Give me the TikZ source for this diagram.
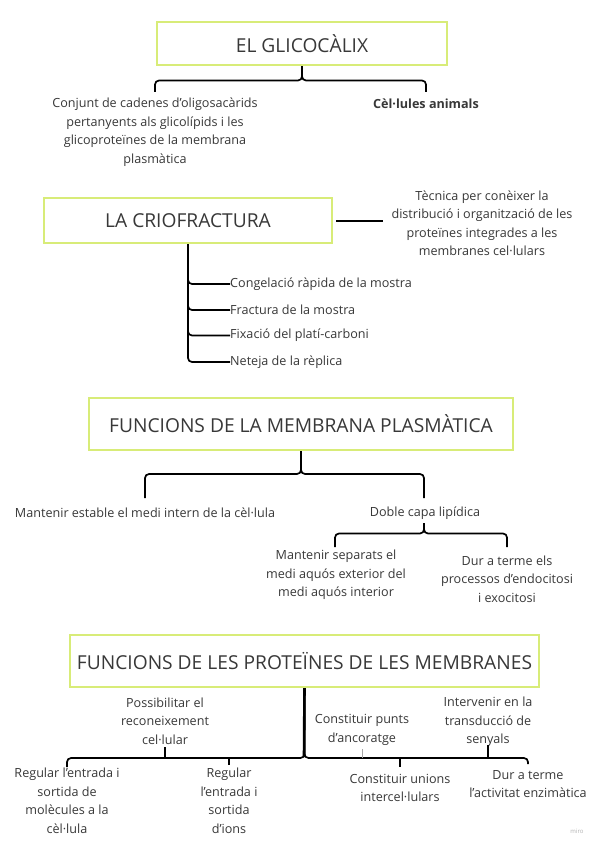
\documentclass[tikz,border=0pt]{standalone}
\usepackage{fontspec}
\setmainfont{Open Sans}
\begin{document}
\begin{tikzpicture}[x=1pt,y=-1pt,
  titlebox/.style={draw=boxlime,line width=2.2pt,fill=white,text=textgray,font=\fontsize{19.2}{22}\selectfont,inner sep=0pt},
  txt/.style={text=textgray,font=\fontsize{12.6}{18.5}\selectfont,align=center,inner sep=0pt},
  ltxt/.style={txt,anchor=west},
  conn/.style={draw=black,line width=1.7pt,rounded corners=4pt},
  thickconn/.style={draw=black,line width=2.6pt,rounded corners=4pt}]
\definecolor{boxlime}{HTML}{D8EC78}
\definecolor{textgray}{HTML}{383838}
\useasboundingbox[fill=white] (0,0) rectangle (600,848);

% ---- EL GLICOCALIX ----
\node[titlebox,minimum width=290pt,minimum height=43pt] (g1) at (302,43.5) {EL GLICOCÀLIX};
\node[txt] (c1a) at (155,132) {Conjunt de cadenes d'oligosacàrids\\pertanyents als glicolípids i les\\glicoproteïnes de la membrana\\plasmàtica};
\node[txt,font=\bfseries\fontsize{12.6}{18.5}\selectfont] (c1b) at (426,104) {Cèl·lules animals};
\coordinate (b1l) at (155,92);
\coordinate (b1r) at (426,92);
\draw[conn] (g1.south) |- (200,80.5) -- (b1l |- 0,80.5) -- (b1l);
\draw[conn] (g1.south) |- (380,80.5) -- (b1r |- 0,80.5) -- (b1r);

% ---- LA CRIOFRACTURA ----
\node[titlebox,minimum width=288pt,minimum height=45pt] (g2) at (188,220.5) {LA CRIOFRACTURA};
\node[txt] (t2) at (482,223) {Tècnica per conèixer la\\distribució i organització de les\\proteïnes integrades a les\\membranes cel·lulars};
\coordinate (r2) at (383,221);
\draw[conn] ([xshift=3pt]g2.east |- r2) -- (r2);
\node[ltxt] (s1) at (230,284) {Congelació ràpida de la mostra};
\node[ltxt] (s2) at (230,310) {Fractura de la mostra};
\node[ltxt] (s3) at (230,335.5) {Fixació del platí-carboni};
\node[ltxt] (s4) at (230,362) {Neteja de la rèplica};
\draw[conn] (g2.south) |- (s1.west);
\draw[conn] (g2.south) |- (s2.west);
\draw[conn] (g2.south) |- (s3.west);
\draw[conn] (g2.south) |- (s4.west);

% ---- FUNCIONS DE LA MEMBRANA PLASMATICA ----
\node[titlebox,minimum width=424pt,minimum height=52pt] (g3) at (301,424) {FUNCIONS DE LA MEMBRANA PLASMÀTICA};
\node[txt] (t3a) at (145,513) {Mantenir estable el medi intern de la cèl·lula};
\node[txt] (t3b) at (425,513) {Doble capa lipídica};
\coordinate (b3l) at (145,498);
\coordinate (b3r) at (424,498);
\draw[conn] (g3.south) |- (250,474) -- (b3l |- 0,474) -- (b3l);
\draw[conn] (g3.south) |- (350,474) -- (b3r |- 0,474) -- (b3r);
\node[txt] (t3c) at (336,575) {Mantenir separats el\\medi aquós exterior del\\medi aquós interior};
\node[txt] (t3d) at (507,579) {Dur a terme els\\processos d'endocitosi\\i exocitosi};
\coordinate (b4t) at (424,523);
\coordinate (b4l) at (335,547);
\coordinate (b4r) at (507,547);
\draw[conn] (b4t) |- (380,533.5) -- (b4l |- 0,533.5) -- (b4l);
\draw[conn] (b4t) |- (470,533.5) -- (b4r |- 0,533.5) -- (b4r);

% ---- FUNCIONS DE LES PROTEINES ----
\node[titlebox,minimum width=469pt,minimum height=52pt] (g4) at (304.5,661) {FUNCIONS DE LES PROTEÏNES DE LES MEMBRANES};
\node[txt] (t4a) at (165,721) {Possibilitar el\\reconeixement\\cel·lular};
\node[txt] (t4b) at (67,801) {Regular l'entrada i\\sortida de\\molècules a la\\cèl·lula};
\node[txt] (t4c) at (229,801) {Regular\\l'entrada i\\sortida\\d'ions};
\node[txt] (t4d) at (362,730) {Constituir punts\\d'ancoratge};
\node[txt] (t4e) at (400,788) {Constituir unions\\intercel·lulars};
\node[txt] (t4f) at (488,722) {Intervenir en la\\transducció de\\senyals};
\node[txt] (t4g) at (528,784) {Dur a terme\\l'activitat enzimàtica};
\coordinate (v4) at (304,757);
\coordinate (e4l) at (67,767);
\coordinate (e4r) at (528,764);
\draw[thickconn] (g4.south) -- (v4);
\draw[conn] (g4.south) |- (200,758) -- (e4l |- 0,758) -- (e4l);
\draw[conn] (g4.south) |- (420,758) -- (e4r |- 0,758) -- (e4r);
\coordinate (k1) at (165,747);
\coordinate (k2) at (229,765);
\coordinate (k3) at (362,749);
\coordinate (k4) at (400,767);
\coordinate (k5) at (488,745);
\draw[conn] (k1 |- 0,758) -- (k1);
\draw[conn] (k2 |- 0,758) -- (k2);
\draw[draw=black!35,line width=1pt] (k3 |- 0,758) -- (k3);
\draw[conn] (k4 |- 0,758) -- (k4);
\draw[conn] (k5 |- 0,758) -- (k5);

\node[text=black!30,font=\fontsize{6}{7}\selectfont,inner sep=0pt] (miro) at (577,831) {miro};
\end{tikzpicture}
\end{document}
